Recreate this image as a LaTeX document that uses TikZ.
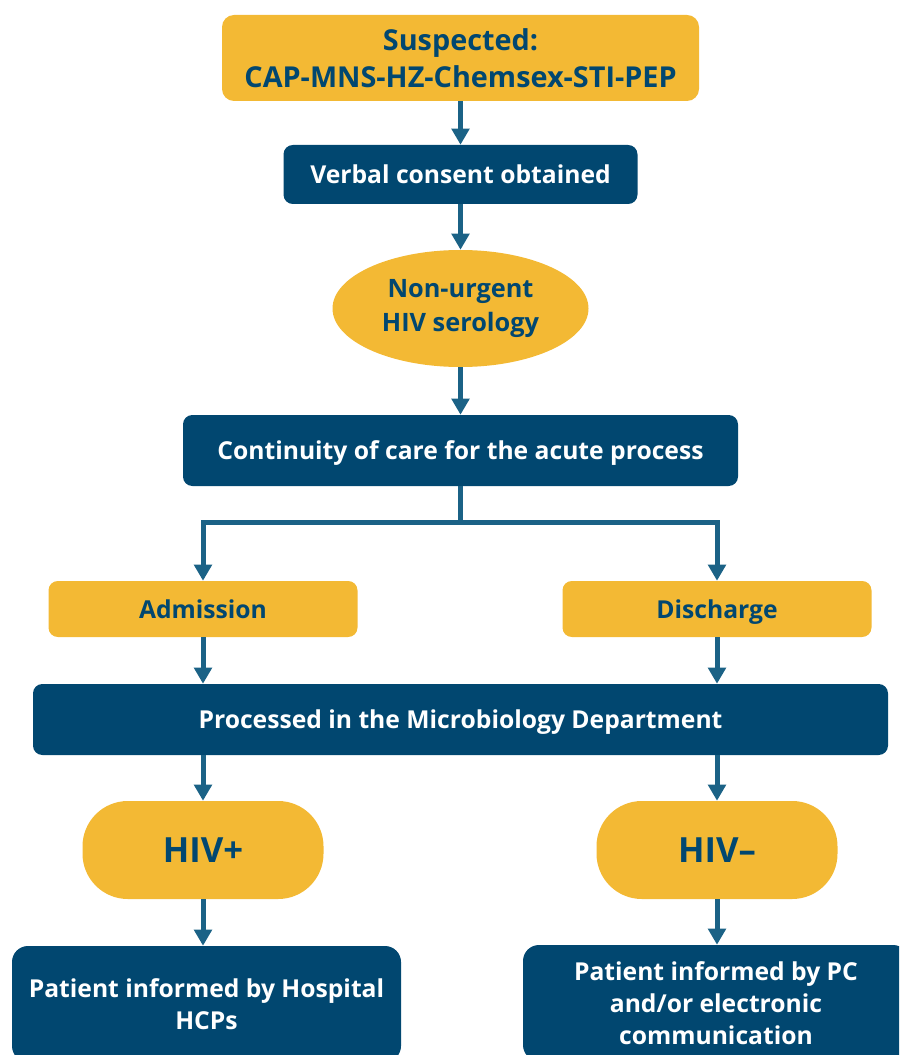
\documentclass[tikz,border=0pt]{standalone}
\usepackage{fontspec}
\setmainfont{Open Sans}
\usetikzlibrary{positioning,arrows.meta,shapes.geometric}
\definecolor{navy}{RGB}{1,71,112}
\definecolor{gold}{RGB}{243,185,52}
\definecolor{arrowblue}{RGB}{27,98,134}

\begin{document}
\begin{tikzpicture}[
  x=0.75pt, y=-0.75pt,
  goldbox/.style={rectangle, rounded corners=7pt, fill=gold, text=navy,
    align=center, inner sep=0pt, font=\fontsize{18.5}{24}\selectfont\bfseries},
  navybox/.style={goldbox, fill=navy, text=white},
  oneline/.style={text height=13.5pt, text depth=0pt},
  pill/.style={goldbox, rounded corners=34pt, minimum width=180.75pt,
    minimum height=73.5pt, font=\fontsize{26}{32}\selectfont\bfseries},
  flow/.style={-{Triangle[width=13pt,length=12pt]}, arrowblue, line width=3.75pt},
]
  \useasboundingbox (0,0) rectangle (899,1055);
  \clip (0,0) rectangle (899,1055);

  % Entry
  \node[goldbox, rounded corners=9pt, minimum width=357.75pt, minimum height=64.5pt,
    font=\fontsize{21.6}{27.75}\selectfont\bfseries] (susp) at (460.5,58)
    {Suspected:\\CAP-MNS-HZ-Chemsex-STI-PEP};
  \node[navybox, oneline, minimum width=265.5pt, minimum height=44.25pt] (consent)
    at (460.5,174.5) {Verbal consent obtained};
  \node[goldbox, ellipse, minimum width=192pt, minimum height=87.75pt,
    font=\fontsize{19}{25.5}\selectfont\bfseries] (serol) at (460.5,308.5)
    {Non-urgent\\HIV serology};
  \node[navybox, oneline, minimum width=416.25pt, minimum height=53.25pt] (cont)
    at (460.5,450.5) {Continuity of care for the acute process};
  \draw[flow] (susp) -- (consent);
  \draw[flow] (consent) -- (serol);
  \draw[flow] (serol) -- (cont);

  % Admission / discharge
  \node[goldbox, oneline, minimum width=231.75pt, minimum height=42pt] (adm)
    at (203,609) {Admission};
  \node[goldbox, oneline, minimum width=231.75pt, minimum height=42pt] (dis)
    at (717,609) {Discharge};
  \draw[flow] (cont.south) -- ++(0,36) -| (adm.north);
  \draw[flow] (cont.south) -- ++(0,36) -| (dis.north);

  \node[navybox, oneline, minimum width=641.25pt, minimum height=53.25pt] (micro)
    at (460.5,719.5) {Processed in the Microbiology Department};
  \draw[flow] (adm.south) -- (adm.south |- micro.north);
  \draw[flow] (dis.south) -- (dis.south |- micro.north);

  % Results
  \node[pill] (hivp) at (203,850) {HIV+};
  \node[pill] (hivn) at (717,850) {HIV–};
  \draw[flow] (micro.south -| hivp) -- (hivp);
  \draw[flow] (micro.south -| hivn) -- (hivn);

  \node[navybox, rounded corners=12pt, minimum width=291.75pt, minimum height=87pt]
    (infh) at (206.5,1004) {Patient informed by Hospital\\HCPs};
  \node[navybox, rounded corners=12pt, minimum width=289.5pt, minimum height=87pt]
    (infp) at (716,1003) {Patient informed by PC\\and/or electronic\\communication};
  \draw[flow] (hivp) -- (hivp.south |- infh.north);
  \draw[flow] (hivn) -- (hivn.south |- infp.north);
\end{tikzpicture}
\end{document}
